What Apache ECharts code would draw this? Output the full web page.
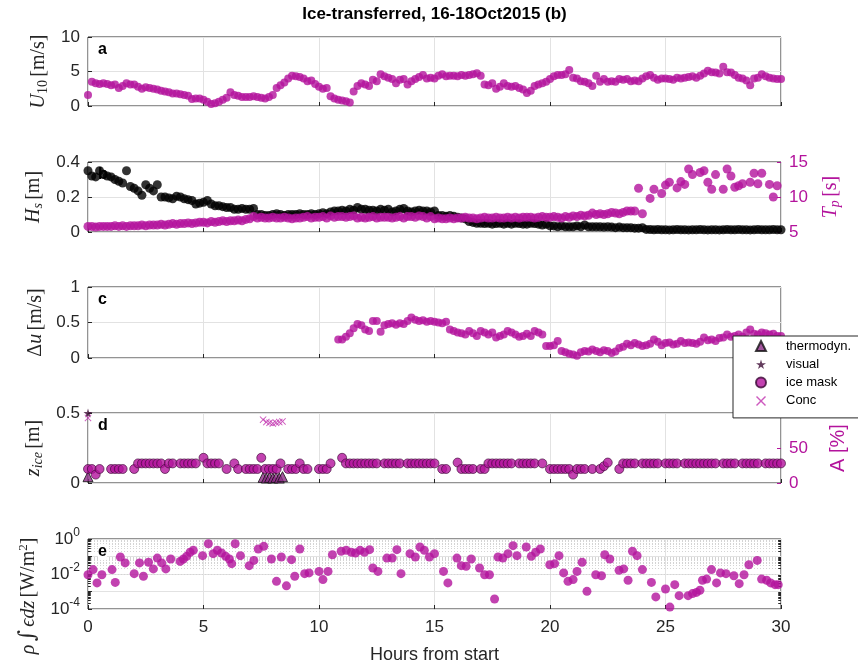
<!DOCTYPE html>
<html><head><meta charset="utf-8">
<script src="https://cdn.jsdelivr.net/npm/echarts@6/dist/echarts.min.js"></script>
<style>html,body{margin:0;padding:0;background:#fff}#c{width:858px;height:666px}</style>
</head><body><div id="c"></div>
<script>
// ---------- data ----------
// 10-minute sampling grid, hours 0..30 (181 samples)
const hours10 = Array.from({length: 181}, (_, i) => i / 6);

// (a) wind speed U10 [m/s]
const u10 = [1.6,3.5,3.3,3.2,3.3,3.2, 3.0,3.1,2.6,2.9,3.3,3.1, 3.1,2.8,2.5,2.7,2.6,2.5,
  2.4,2.2,2.1,2.0,1.8,1.8, 1.7,1.6,1.5,1.0,1.1,1.1, 0.9,0.6,0.3,0.4,0.6,0.9,
  1.2,2.0,1.6,1.5,1.3,1.3, 1.3,1.4,1.3,1.2,1.1,1.3, 1.6,2.6,3.0,3.4,4.0,4.4,
  4.3,4.2,4.0,3.6,3.7,3.2, 2.8,2.5,2.6,1.4,1.1,0.9, 0.8,0.7,0.5,2.1,2.9,3.3,
  3.1,2.9,3.8,3.6,4.6,4.3, 4.1,3.9,3.3,3.8,3.9,3.1, 3.6,3.9,4.2,4.5,4.0,4.1,
  4.0,4.4,4.6,4.3,4.4,4.4, 4.3,4.5,4.4,4.5,4.6,4.75, 4.4,3.1,3.0,3.3,2.5,2.8,
  3.3,2.9,2.8,2.9,2.6,2.4, 1.9,2.2,2.9,3.1,3.3,3.5, 3.9,4.3,4.5,4.5,4.6,5.2,
  4.1,4.0,3.6,3.5,3.3,2.9, 4.4,3.5,3.9,3.5,3.6,3.5, 3.9,3.8,3.9,3.6,3.7,3.6,
  4.0,4.3,4.5,4.1,3.8,4.0, 4.0,3.9,3.8,4.1,4.0,4.1, 4.2,4.3,4.1,4.4,4.7,5.1,
  4.9,4.85,4.7,5.7,4.9,4.85, 4.5,4.1,4.0,3.7,3.0,4.0, 4.1,4.6,4.3,4.1,4.0,3.9, 3.9];

// (b) significant wave height Hs [m]
const hs = [0.35,0.32,0.315,0.35,0.33,0.32, 0.315,0.30,0.29,0.28,0.35,0.26, 0.25,0.235,0.21,0.27,0.25,0.235,
  0.27,0.20,0.20,0.195,0.19,0.205, 0.20,0.19,0.185,0.18,0.16,0.165, 0.17,0.18,0.16,0.15,0.15,0.145,
  0.14,0.14,0.13,0.13,0.135,0.13, 0.13,0.135,0.10,0.10,0.095,0.095, 0.10,0.105,0.10,0.095,0.10,0.10,
  0.10,0.105,0.10,0.10,0.105,0.10, 0.105,0.11,0.105,0.115,0.12,0.12, 0.125,0.12,0.13,0.125,0.14,0.13,
  0.13,0.125,0.125,0.12,0.13,0.125, 0.13,0.115,0.12,0.13,0.135,0.12, 0.115,0.12,0.125,0.12,0.12,0.115,
  0.12,0.095,0.095,0.09,0.095,0.09, 0.085,0.08,0.075,0.06,0.055,0.05, 0.05,0.048,0.05,0.045,0.048,0.05,
  0.045,0.05,0.045,0.05,0.048,0.045, 0.045,0.05,0.048,0.045,0.04,0.045, 0.035,0.035,0.03,0.035,0.03,0.03,
  0.03,0.035,0.03,0.04,0.03,0.03, 0.03,0.03,0.028,0.03,0.028,0.025, 0.028,0.025,0.025,0.025,0.022,0.022,
  0.025,0.015,0.014,0.013,0.014,0.013, 0.013,0.012,0.013,0.014,0.013,0.013, 0.012,0.013,0.013,0.014,0.013,0.012,
  0.013,0.013,0.012,0.013,0.014,0.013, 0.013,0.014,0.013,0.013,0.012,0.013, 0.014,0.013,0.013,0.013,0.014,0.013, 0.013];

// (b) peak period Tp [s]  (null = no sample)
const tp = [5.8,5.8,5.7,5.8,5.8,5.8, 5.8,5.9,5.8,5.9,5.8,5.9, 5.9,5.9,6.0,5.9,6.0,6.0,
  6.0,6.1,6.0,6.1,6.2,6.1, 6.2,6.2,6.3,6.2,6.3,6.4, 6.4,6.3,6.5,6.4,6.5,6.6,
  6.5,6.6,6.6,6.7,6.6,6.8, 6.9,7.2,7.0,7.1,7.0,7.0, 7.1,7.0,7.0,7.1,7.0,6.9,
  7.0,7.0,7.1,7.2,7.0,7.1, 7.1,7.2,7.0,7.3,7.1,7.2, 7.2,7.1,7.2,7.3,7.0,7.1,
  7.0,7.1,7.2,7.0,7.1,7.1, 7.1,7.0,7.1,7.2,7.0,7.2, 7.2,7.1,7.3,7.2,7.0,7.2,
  6.9,7.0,6.9,6.9,7.0,6.9, 7.0,7.0,7.1,7.0,7.0,6.9, 7.0,7.1,7.0,7.0,7.1,7.0,
  7.0,7.1,7.0,7.1,7.0,7.1, 7.1,7.1,7.0,7.1,7.2,7.1, 7.1,7.2,7.1,7.0,7.2,7.1,
  7.3,7.2,7.4,7.3,7.4,7.7, 7.5,7.6,7.5,7.6,7.8,7.7, 7.6,7.8,8.0,8.0,8.0,11.25,
  7.6,null,9.8,11.1,null,10.5, 11.7,12.1,null,11.3,12.2,11.8, 14.0,13.2,null,13.5,13.75,12.1,
  11.1,13.2,null,11.1,14.0,13.0, 11.4,11.6,11.9,null,12.1,13.4, 11.9,13.4,null,11.8,10.0,11.6, null];

// (c) velocity difference du [m/s], starting at sample index 65 (10.83 h)
const duStartIndex = 65;
const du = [0.26,
  0.26,0.30,0.35,0.42,0.48,0.46, 0.40,0.38,0.52,0.52,0.37,0.46, 0.48,0.49,0.47,0.49,0.48,0.52,
  0.57,0.54,0.52,0.53,0.51,0.52, 0.51,0.50,0.49,0.51,0.40,0.38, 0.36,0.35,0.33,0.38,0.35,0.31,
  0.38,0.36,0.33,0.36,0.29,0.31, 0.33,0.38,0.36,0.33,0.30,0.31, 0.34,0.31,0.38,0.36,0.33,0.17,
  0.17,0.18,0.24,0.10,0.08,0.06, 0.05,0.03,0.08,0.10,0.09,0.12, 0.10,0.08,0.11,0.10,0.07,0.09,
  0.14,0.16,0.20,0.18,0.21,0.19, 0.17,0.18,0.20,0.26,0.23,0.18, 0.21,0.22,0.19,0.20,0.24,0.21,
  0.22,0.21,0.20,0.23,0.29,0.25, 0.26,0.24,0.28,0.29,0.33,0.30, 0.31,0.33,0.30,0.36,0.40,0.34,
  0.33,0.36,0.35,0.33,0.34,0.31, 0.31];

// (d) ice thickness from ice mask [m] (null = no sample)
const zIceMask = [0.10,0.10,0.06,0.10,null,null, 0.10,0.10,0.10,0.10,null,null, 0.10,0.14,0.14,0.14,0.14,0.14,
  0.14,0.14,0.10,0.14,0.14,null, 0.14,0.14,0.14,0.14,0.14,null, 0.18,0.14,0.14,0.14,0.14,null,
  0.10,null,0.14,0.10,null,0.10, 0.10,0.10,0.10,0.18,0.10,0.10, 0.10,0.10,0.14,null,0.10,0.10,
  0.10,0.14,0.10,0.10,null,null, 0.10,0.10,0.10,0.14,null,null, 0.18,0.14,0.14,0.14,0.14,0.14,
  0.14,0.14,0.14,0.14,null,0.14, 0.14,0.14,0.14,0.14,null,0.14, 0.14,0.14,0.14,0.14,0.14,0.14,
  0.14,null,0.10,0.10,null,null, 0.146,0.10,0.10,0.10,0.10,null, 0.10,0.10,0.14,0.14,0.14,0.14,
  0.14,0.14,0.14,null,0.14,0.14, 0.14,0.14,0.14,null,0.14,null, 0.10,0.10,0.10,0.10,0.10,0.10,
  0.06,0.10,0.10,0.10,null,0.10, null,0.10,0.12,0.146,null,null, 0.10,0.14,0.14,0.14,0.14,null,
  0.14,0.14,0.14,0.14,0.14,null, 0.14,0.14,0.14,0.14,null,0.14, 0.14,0.14,0.14,0.14,0.14,0.14,
  0.14,0.14,null,0.14,0.14,0.14, 0.14,null,0.14,0.14,0.14,0.14, 0.14,null,0.14,0.14,0.14,0.14, 0.14];

// (d) thermodynamic ice thickness [m]
const thermoHours = [0, 7.58, 7.72, 7.86, 8.0, 8.14, 8.28, 8.42];
const thermoZ = [0.045, 0.04, 0.035, 0.04, 0.035, 0.04, 0.035, 0.045];
// (d) visual observation [m]
const visualHours = [0];
const visualZ = [0.5];
// (d) ice concentration A [%]
const concHours = [0, 7.58, 7.72, 7.86, 8.0, 8.14, 8.28, 8.42];
const concA = [93, 90.5, 87, 86, 85, 86, 87, 88];

// (e) depth-integrated dissipation [W/m2]
const dissHours = [0.0,0.22,0.39,0.6,1.04,1.18,1.4,1.61,2.0,2.23,2.4,2.62,2.83,3.0,3.19,3.37,3.58,3.99,4.13,4.27,
  4.42,4.56,4.96,5.21,5.42,5.6,5.78,5.96,6.12,6.22,6.37,6.6,6.98,7.18,7.37,7.61,7.94,8.16,8.37,8.59,
  8.81,8.95,9.17,9.38,9.57,10.0,10.17,10.39,10.58,10.96,11.18,11.4,11.58,11.78,11.97,12.19,12.33,12.55,12.94,13.17,
  13.37,13.55,13.94,14.17,14.37,14.56,14.78,15.0,15.39,15.58,15.97,16.16,16.37,16.59,16.95,17.17,17.38,17.6,17.75,17.96,
  18.18,18.4,18.57,18.97,19.19,19.38,19.58,19.99,20.2,20.39,20.59,20.78,21.0,21.17,21.39,21.6,21.98,22.23,22.37,22.59,
  22.99,23.19,23.38,23.57,23.77,24.0,24.39,24.58,25.0,25.19,25.4,25.59,25.98,26.17,26.34,26.49,26.6,26.78,26.99,27.21,
  27.38,27.62,27.96,28.19,28.4,28.61,28.97,29.16,29.38,29.55,29.74,29.88];
const dissValues = [0.0091,0.0178,0.0031,0.0091,0.0178,0.0033,0.093,0.043,0.0105,0.043,0.0074,0.047,0.0195,0.081,0.043,0.0195,0.072,0.0525,0.072,0.102,
  0.174,0.224,0.112,0.537,0.145,0.224,0.158,0.102,0.072,0.039,0.537,0.112,0.030,0.060,0.269,0.380,0.072,0.0038,0.093,0.0021,
  0.066,0.0074,0.269,0.0105,0.0115,0.0141,0.0048,0.0141,0.126,0.200,0.224,0.174,0.158,0.224,0.174,0.245,0.0219,0.0141,0.081,0.081,
  0.245,0.0105,0.145,0.093,0.347,0.224,0.093,0.145,0.0141,0.0031,0.081,0.030,0.0275,0.072,0.0219,0.0091,0.0091,0.00037,0.093,0.081,
  0.145,0.417,0.112,0.347,0.102,0.174,0.269,0.0339,0.0389,0.112,0.0115,0.0038,0.0048,0.0141,0.047,0.00102,0.0091,0.0079,0.126,0.072,
  0.0162,0.0195,0.0044,0.200,0.112,0.0178,0.0033,0.00049,0.00138,0.000129,0.00245,0.00058,0.00058,0.00076,0.00089,0.00117,0.0044,0.0051,0.0178,0.0031,
  0.0115,0.0105,0.0079,0.0028,0.0091,0.0339,0.060,0.0051,0.0044,0.0031,0.00245,0.00245];

// tick labels
const hourTicks = [0, 5, 10, 15, 20, 25, 30];

// ---------- helpers ----------
function pairs(t, v, offset) {
  const out = [];
  for (let i = 0; i < v.length; i++) {
    if (v[i] !== null && v[i] !== undefined) out.push([t[i + (offset || 0)], v[i]]);
  }
  return out;
}

const MAG = '#b3139c';
const INK = '#262626';
const GRIDC = '#e2e2e2';
const SANS = 'Liberation Sans, Arial, sans-serif';
const SERIF = 'Liberation Serif, DejaVu Serif, serif';

function rich(color) {
  return {
    it: {fontFamily: SERIF, fontStyle: 'italic', fontSize: 20, color: color},
    rm: {fontFamily: SERIF, fontSize: 20, color: color},
    big: {fontFamily: 'DejaVu Serif, serif', fontSize: 22, color: color},
    subrm: {fontFamily: SERIF, fontSize: 14, color: color, padding: [9, 0, 0, 0]},
    subit: {fontFamily: SERIF, fontStyle: 'italic', fontSize: 14, color: color, padding: [9, 0, 0, 0]},
    suprm: {fontFamily: SERIF, fontSize: 13, color: color, padding: [0, 0, 10, 0]},
    sans: {fontFamily: SANS, fontSize: 20, color: color}
  };
}

const grids = [
  {top: 37, height: 69},
  {top: 162, height: 70},
  {top: 287, height: 71},
  {top: 413, height: 70},
  {top: 539, height: 70}
].map(g => ({left: 88, right: 77, top: g.top, height: g.height, show: true,
  borderColor: INK, borderWidth: 1, backgroundColor: 'rgba(0,0,0,0)'}));

const xAxes = grids.map((g, i) => ({
  type: 'value', gridIndex: i, min: 0, max: 30, interval: 5,
  axisLine: {show: false},
  axisTick: {show: true, inside: true, length: 4, lineStyle: {color: INK}},
  axisLabel: {show: i === 4, fontFamily: SANS, fontSize: 17, color: INK, margin: 10,
    formatter: v => hourTicks.indexOf(v) >= 0 ? String(v) : ''},
  splitLine: {show: true, lineStyle: {color: GRIDC, width: 1}},
  name: i === 4 ? 'Hours from start' : '',
  nameLocation: 'middle', nameGap: 37,
  nameTextStyle: {fontFamily: SANS, fontSize: 18, color: INK}
}));

function yLeft(grid, min, max, interval, name, gap) {
  return {
    type: 'value', gridIndex: grid, position: 'left', min: min, max: max, interval: interval,
    axisLine: {show: false},
    axisTick: {show: true, inside: true, length: 4, lineStyle: {color: INK}},
    axisLabel: {fontFamily: SANS, fontSize: 17, color: INK, margin: 8},
    splitLine: {show: true, lineStyle: {color: GRIDC}},
    name: name, nameLocation: 'middle', nameRotate: 90, nameGap: gap,
    nameTextStyle: {rich: rich(INK)}
  };
}
function yRight(grid, min, max, interval, name, gap) {
  return {
    type: 'value', gridIndex: grid, position: 'right', min: min, max: max, interval: interval,
    axisLine: {show: false},
    axisTick: {show: true, inside: true, length: 4, lineStyle: {color: MAG}},
    axisLabel: {fontFamily: SANS, fontSize: 17, color: MAG, margin: 8},
    splitLine: {show: false},
    name: name, nameLocation: 'middle', nameRotate: 90, nameGap: gap,
    nameTextStyle: {rich: rich(MAG)}
  };
}

const yAxes = [
  yLeft(0, 0, 10, 5, '{it|U}{subrm|10} {rm|[m/s]}', 33),
  yLeft(1, 0, 0.4, 0.2, '{it|H}{subit|s} {rm|[m]}', 33),
  yRight(1, 5, 15, 5, '{it|T}{subit|p} {rm|[s]}', 38),
  yLeft(2, 0, 1, 0.5, '{rm|Δ}{it|u} {rm|[m/s]}', 33),
  yLeft(3, 0, 0.5, 0.5, '{it|z}{subit|ice} {rm|[m]}', 36),
  yRight(3, 0, 100, 50, '{sans|A [%]}', 38),
  {
    type: 'log', logBase: 10, gridIndex: 4, position: 'left', min: 1e-4, max: 1,
    axisLine: {show: false},
    axisTick: {show: true, inside: true, length: 4, lineStyle: {color: INK}},
    axisLabel: {fontFamily: SANS, fontSize: 17, color: INK, margin: 8,
      formatter: v => { const e = Math.round(Math.log10(v)); return e % 2 === 0 ? '10{sup|' + e + '}' : ''; },
      rich: {sup: {fontFamily: SANS, fontSize: 12, color: INK, padding: [0, 0, 12, 0]}}},
    splitLine: {show: true, lineStyle: {color: GRIDC}},
    name: '{it|ρ} {big|∫} {it|ϵdz} {rm|[W/m}{suprm|2}{rm|]}', nameLocation: 'middle', nameRotate: 90, nameGap: 33,
    nameTextStyle: {rich: rich(INK), padding: [0, 44, 0, 0]}
  }
];

// dotted minor grid lines and minor tick marks for the log axis (2..9 x 10^k)
const minorLines = [];
const minorTicks = [];
for (let k = -4; k < 0; k++) for (let m = 2; m <= 9; m++) {
  const v = m * Math.pow(10, k);
  minorLines.push({yAxis: v});
  minorTicks.push([{coord: [0, v]}, {coord: [0.12, v]}]);
  minorTicks.push([{coord: [29.88, v]}, {coord: [30, v]}]);
}

const starPath = 'path://M50,0 L61,35 L98,35 L68,57 L79,91 L50,70 L21,91 L32,57 L2,35 L39,35 Z';
const crossPath = 'path://M0,1 L1,0 L5,4 L9,0 L10,1 L6,5 L10,9 L9,10 L5,6 L1,10 L0,9 L4,5 Z';

const series = [
  {name: 'U10', type: 'scatter', xAxisIndex: 0, yAxisIndex: 0, symbolSize: 8,
    itemStyle: {color: MAG}, data: pairs(hours10, u10)},
  {name: 'Hs', type: 'scatter', xAxisIndex: 1, yAxisIndex: 1, symbolSize: 9,
    itemStyle: {color: '#000'}, data: pairs(hours10, hs)},
  {name: 'Tp', type: 'scatter', xAxisIndex: 1, yAxisIndex: 2, symbolSize: 9,
    itemStyle: {color: MAG}, data: pairs(hours10, tp)},
  {name: 'du', type: 'scatter', xAxisIndex: 2, yAxisIndex: 3, symbolSize: 8,
    itemStyle: {color: MAG}, data: pairs(hours10, du, duStartIndex)},
  {name: 'thermodyn.', type: 'scatter', xAxisIndex: 3, yAxisIndex: 4, symbol: 'triangle', symbolSize: 10,
    itemStyle: {color: '#8c2b86', borderColor: '#111', borderWidth: 1}, data: pairs(thermoHours, thermoZ)},
  {name: 'visual', type: 'scatter', xAxisIndex: 3, yAxisIndex: 4, symbol: starPath, symbolSize: 9,
    itemStyle: {color: '#3c0b34'}, data: pairs(visualHours, visualZ)},
  {name: 'ice mask', type: 'scatter', xAxisIndex: 3, yAxisIndex: 4, symbol: 'circle', symbolSize: 9,
    itemStyle: {color: MAG, borderColor: '#3a0834', borderWidth: 0.8}, data: pairs(hours10, zIceMask)},
  {name: 'Conc', type: 'scatter', xAxisIndex: 3, yAxisIndex: 5, symbol: crossPath, symbolSize: 7,
    itemStyle: {color: '#c02fae'}, data: pairs(concHours, concA)},
  {name: 'minorGrid', type: 'scatter', xAxisIndex: 4, yAxisIndex: 6, data: [], z: 0, zlevel: 0,
    markLine: {silent: true, symbol: 'none', label: {show: false}, animation: false, z: 0,
      lineStyle: {type: [1, 2], color: '#d4d4d4', width: 1}, data: minorLines}},
  {name: 'minorTicks', type: 'scatter', xAxisIndex: 4, yAxisIndex: 6, data: [], z: 1,
    markLine: {silent: true, symbol: 'none', label: {show: false}, animation: false,
      lineStyle: {type: 'solid', color: INK, width: 1}, data: minorTicks}},
  {name: 'diss', type: 'scatter', xAxisIndex: 4, yAxisIndex: 6, symbolSize: 9, z: 10,
    itemStyle: {color: MAG}, data: pairs(dissHours, dissValues)}
];

const letters = [['a', 37], ['b', 162], ['c', 287], ['d', 413], ['e', 539]].map(([t, top]) => ({
  type: 'text', x: 98, y: top + 13, z: 1,
  style: {text: t, fontFamily: SANS, fontWeight: 'bold', fontSize: 16, fill: '#000', verticalAlign: 'middle',
    backgroundColor: t === 'e' ? '#fff' : null}
}));

const option = {
  animation: false,
  backgroundColor: '#fff',
  grid: grids,
  xAxis: xAxes,
  yAxis: yAxes,
  series: series,
  legend: {
    data: ['thermodyn.', 'visual', 'ice mask', 'Conc'],
    orient: 'vertical', left: 733, top: 336,
    itemWidth: 10, itemHeight: 10, itemGap: 4.3, symbolKeepAspect: true,
    padding: [3, 30, 10, 22],
    backgroundColor: '#fff', borderColor: INK, borderWidth: 1, borderRadius: 0,
    textStyle: {fontFamily: SANS, fontSize: 13, color: '#000', lineHeight: 14, padding: [0, 0, 0, 15]},
    selectedMode: false
  },
  graphic: [
    {type: 'text', x: 434.5, y: 14, z: 0,
      style: {text: 'Ice-transferred, 16-18Oct2015 (b)', fontFamily: SANS, fontWeight: 'bold', fontSize: 17,
        fill: '#000', align: 'center', verticalAlign: 'middle'}}
  ].concat(letters)
};

const chart = echarts.init(document.getElementById('c'), null, {renderer: 'canvas'});
chart.setOption(option);
</script></body></html>
